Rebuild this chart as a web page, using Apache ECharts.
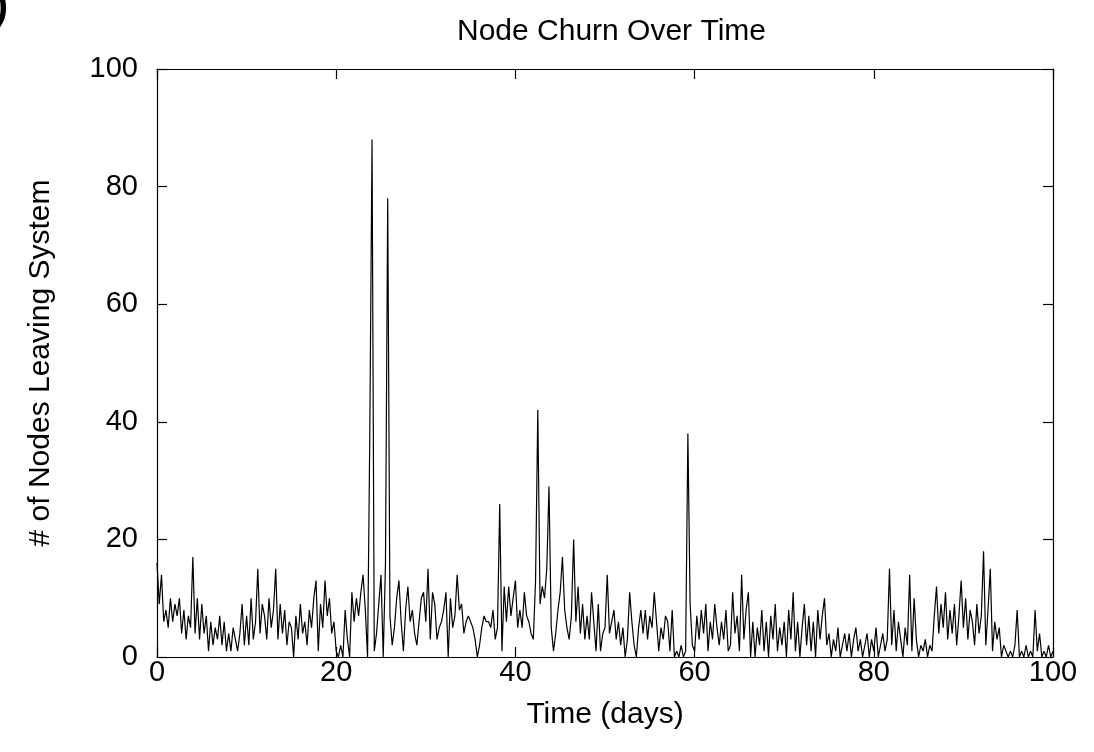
<!DOCTYPE html>
<html>
<head>
<meta charset="utf-8">
<title>Node Churn Over Time</title>
<script src="https://cdn.jsdelivr.net/npm/echarts@6/dist/echarts.min.js"></script>
<style>
  html, body { margin: 0; padding: 0; background: #fff; }
  #chart { width: 1094px; height: 752px; }
</style>
</head>
<body>
<div id="chart"></div>
<script>
// sampling step of the churn trace, in days
var stepDays = 0.25;

// nodes leaving per sample (4 samples per day)
var leaving = [
    16, 9, 14, 6,   8, 5, 10, 6,   9, 7, 10, 4,   8, 3, 7, 5,   17, 4, 10, 3,
    9, 4, 7, 1,     6, 2, 5, 3,    7, 2, 6, 1,    4, 1, 5, 3,   1, 4, 9, 2,
    7, 2, 10, 3,    6, 15, 4, 9,   7, 3, 10, 5,   8, 15, 3, 9,  4, 8, 2, 6,
    5, 0, 7, 3,     9, 4, 6, 2,    8, 5, 10, 13,  1, 9, 5, 13,  7, 10, 4, 6,
    1, 0, 2, 0,     8, 3, 0, 11,   6, 10, 7, 11,  14, 8, 0, 38, 88, 1, 4, 9,
    14, 0, 16, 78,  7, 2, 5, 10,   13, 6, 1, 8,   12, 6, 8, 4,  2, 6, 10, 11,
    6, 15, 3, 11,   9, 3, 5, 6,    8, 11, 0, 10,  5, 7, 14, 8,  9, 4, 6, 7,
    6, 5, 3, 0,     2, 5, 7, 6,    6, 5, 8, 3,    5, 26, 1, 12, 6, 12, 7, 10,
    13, 5, 8, 5,    11, 7, 6, 4,   3, 13, 42, 9,  12, 10, 15, 29, 5, 1, 4, 8,
    11, 17, 8, 5,   3, 7, 20, 6,   12, 4, 9, 3,   7, 3, 11, 6,  1, 9, 1, 4,
    5, 14, 4, 6,    8, 3, 6, 2,    5, 0, 3, 11,   6, 2, 0, 5,   8, 4, 8, 3,
    7, 5, 11, 6,    1, 5, 3, 7,    6, 1, 8, 0,    1, 0, 2, 0,   1, 38, 9, 2,
    1, 7, 3, 8,     4, 9, 1, 6,    3, 9, 5, 2,    6, 3, 8, 1,   2, 11, 4, 7,
    1, 14, 3, 8,    11, 0, 6, 0,   5, 2, 8, 1,    6, 0, 7, 3,   9, 1, 5, 2,
    6, 0, 8, 3,     11, 1, 6, 0,   5, 9, 2, 7,    1, 6, 0, 8,   3, 7, 10, 2,
    4, 0, 3, 1,     5, 0, 2, 4,    1, 4, 0, 3,    5, 1, 3, 0,   2, 4, 0, 3,
    1, 5, 0, 2,     4, 1, 3, 15,   2, 8, 1, 6,    3, 0, 5, 2,   14, 1, 10, 3,
    0, 2, 1, 3,     0, 2, 1, 7,    12, 4, 9, 5,   11, 3, 8, 4,  9, 2, 7, 13,
    5, 10, 3, 8,    6, 2, 9, 4,    7, 18, 2, 8,   15, 1, 6, 3,  5, 0, 2, 1,
    0, 1, 0, 2,     8, 0, 1, 0,    2, 0, 1, 0,    8, 1, 4, 0,   1, 0, 2, 0,
    1
];

var xTicks = [0, 20, 40, 60, 80, 100];
var yTicks = [0, 20, 40, 60, 80, 100];

var fontFamily = '"Liberation Sans", Arial, Helvetica, sans-serif';

function buildSeriesData() {
    var out = [];
    for (var i = 0; i < leaving.length; i++) {
        out.push([i * stepDays, leaving[i]]);
    }
    return out;
}

// 坐标轴: gnuplot 风格, 四边框 + 内刻度
function frameAxis(pos, showLabel, extra) {
    var ax = {
        type: 'value',
        position: pos,
        min: xTicks[0],
        max: xTicks[xTicks.length - 1],
        interval: 20,
        axisLine: { show: true, onZero: false, lineStyle: { color: '#000', width: 1.2 } },
        axisTick: { show: true, inside: true, length: 10, lineStyle: { color: '#000', width: 1.2 } },
        splitLine: { show: false },
        axisLabel: { show: showLabel, color: '#000', fontSize: 29, fontFamily: fontFamily }
    };
    for (var k in extra) { ax[k] = extra[k]; }
    return ax;
}

var myChart = echarts.init(document.getElementById('chart'), null, { renderer: 'canvas' });
var option = {
    animation: false,
    backgroundColor: '#fff',
    title: {
        text: 'Node Churn Over Time',
        left: 452,
        top: 12,
        textStyle: { color: '#000', fontSize: 30, fontWeight: 'normal', fontFamily: fontFamily }
    },
    graphic: [{
        type: 'text',
        left: -43,
        top: -12,
        style: { text: '(b)', fill: '#000', font: 'bold 40px ' + fontFamily }
    }],
    grid: { left: 157, right: 41, top: 69, bottom: 95 },
    xAxis: [
        frameAxis('bottom', true, {
            name: 'Time (days)',
            nameLocation: 'middle',
            nameGap: 43,
            nameTextStyle: { color: '#000', fontSize: 30, fontFamily: fontFamily }
        }),
        frameAxis('top', false, {})
    ],
    yAxis: [
        frameAxis('left', true, {
            min: yTicks[0],
            max: yTicks[yTicks.length - 1],
            name: '# of Nodes Leaving System',
            nameLocation: 'middle',
            nameGap: 101,
            nameTextStyle: { color: '#000', fontSize: 30, fontFamily: fontFamily }
        }),
        frameAxis('right', false, {})
    ],
    series: [{
        type: 'line',
        xAxisIndex: 0,
        yAxisIndex: 0,
        data: buildSeriesData(),
        showSymbol: false,
        symbol: 'none',
        lineStyle: { color: '#000', width: 1.2 }
    }]
};
option.xAxis[0].axisLabel.margin = 1;
option.yAxis[0].axisLabel.margin = 19;
myChart.setOption(option);
window.addEventListener('resize', function() {
    myChart.resize();
});
</script>
</body>
</html>
